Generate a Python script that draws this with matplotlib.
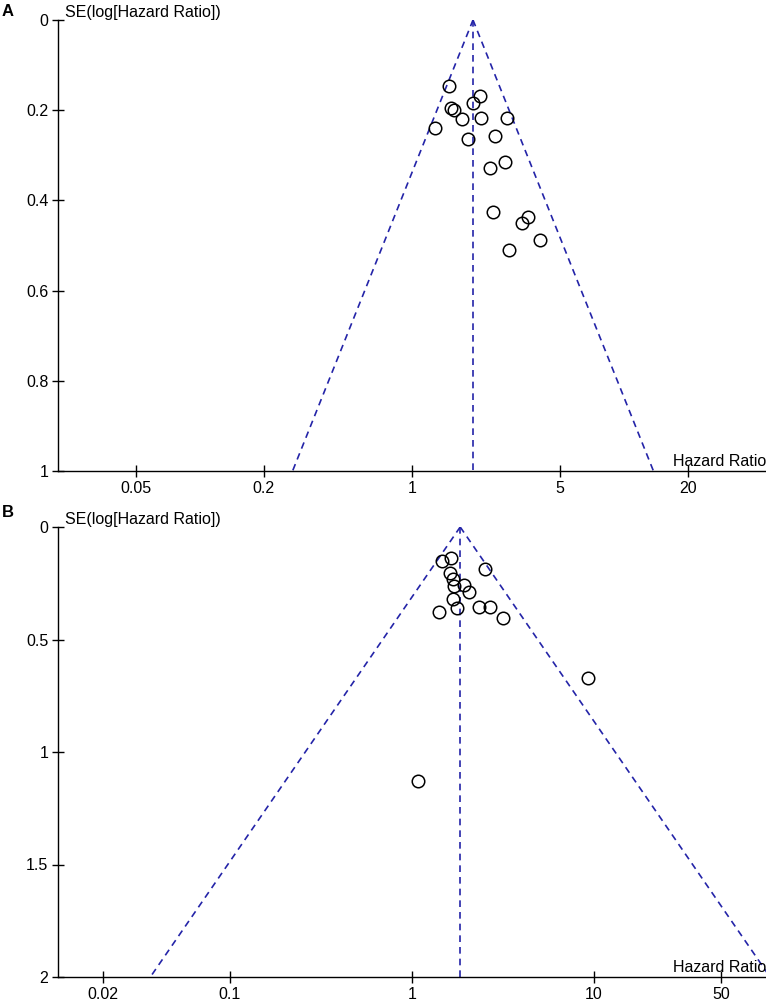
"""Funnel plots (RevMan style) for two hazard ratio meta-analyses."""

import matplotlib
matplotlib.use("Agg")
import matplotlib.pyplot as plt
import numpy as np

plt.rcParams["font.family"] = ["Liberation Sans", "DejaVu Sans"]

# Panel A: study hazard ratios and SE(log HR)
hr_a = [1.50, 2.09, 1.94, 1.53, 1.58, 1.72, 2.12, 2.81, 1.28, 1.84,
        2.46, 2.75, 2.33, 2.41, 3.52, 3.30, 4.02, 2.87]
se_a = [0.146, 0.169, 0.184, 0.195, 0.200, 0.220, 0.217, 0.217, 0.240, 0.264,
        0.257, 0.315, 0.328, 0.425, 0.437, 0.450, 0.488, 0.510]
pooled_a = 1.94
xticks_a = [0.05, 0.2, 1, 5, 20]
xticklabels_a = ["0.05", "0.2", "1", "5", "20"]
yticks_a = [0, 0.2, 0.4, 0.6, 0.8, 1]
yticklabels_a = ["0", "0.2", "0.4", "0.6", "0.8", "1"]

# Panel B
hr_b = [1.46, 1.64, 2.52, 1.62, 1.68, 1.70, 1.93, 2.06, 1.68, 1.77,
        1.41, 2.33, 2.68, 3.16, 9.27, 1.08]
se_b = [0.151, 0.138, 0.187, 0.204, 0.231, 0.262, 0.258, 0.289, 0.320, 0.360,
        0.378, 0.356, 0.356, 0.404, 0.671, 1.129]
pooled_b = 1.84
xticks_b = [0.02, 0.1, 1, 10, 50]
xticklabels_b = ["0.02", "0.1", "1", "10", "50"]
yticks_b = [0, 0.5, 1, 1.5, 2]
yticklabels_b = ["0", "0.5", "1", "1.5", "2"]

FUNNEL_COLOR = "#2424a8"
FONT_SIZE = 11.5


def draw_funnel(ax, hr, se, pooled, se_max, log_half_range,
                xticks, xticklabels, yticks, yticklabels):
    # pseudo 95% limits: log(HR) +/- 1.96 * SE
    se_line = np.array([0.0, se_max])
    lo = np.exp(np.log(pooled) - 1.96 * se_line)
    hi = np.exp(np.log(pooled) + 1.96 * se_line)
    dash = (0, (4, 3))
    ax.plot(lo, se_line, color=FUNNEL_COLOR, lw=1.2, linestyle=dash)
    ax.plot(hi, se_line, color=FUNNEL_COLOR, lw=1.2, linestyle=dash)
    ax.plot([pooled, pooled], se_line, color=FUNNEL_COLOR, lw=1.2, linestyle=dash)

    ax.plot(hr, se, linestyle="none", marker="o", markersize=9,
            markerfacecolor="none", markeredgecolor="black", markeredgewidth=1.1)

    ax.set_xscale("log")
    ax.set_xlim(10 ** -log_half_range, 10 ** log_half_range)
    ax.set_ylim(se_max, 0)
    ax.set_xticks(xticks)
    ax.set_xticklabels(xticklabels)
    ax.xaxis.set_minor_locator(matplotlib.ticker.NullLocator())
    ax.set_yticks(yticks)
    ax.set_yticklabels(yticklabels)

    for side in ("top", "right"):
        ax.spines[side].set_visible(False)
    for side in ("left", "bottom"):
        ax.spines[side].set_linewidth(1.0)
    ax.tick_params(direction="inout", length=8, width=1.0,
                   labelsize=FONT_SIZE, pad=3)
    ax.patch.set_alpha(0)

    ax.text(0.01, 1.0, "SE(log[Hazard Ratio])", transform=ax.transAxes,
            fontsize=FONT_SIZE, ha="left", va="bottom")
    ax.text(1.0, 0.005, "Hazard Ratio", transform=ax.transAxes,
            fontsize=FONT_SIZE, ha="right", va="bottom")


def main():
    fig = plt.figure(figsize=(7.66, 10), dpi=100)

    ax_a = fig.add_axes([58 / 766, 1 - 471 / 1000, 708 / 766, 451 / 1000])
    draw_funnel(ax_a, hr_a, se_a, pooled_a, 1.0, 1.67,
                xticks_a, xticklabels_a, yticks_a, yticklabels_a)

    ax_b = fig.add_axes([58 / 766, 1 - 977 / 1000, 708 / 766, 450 / 1000])
    draw_funnel(ax_b, hr_b, se_b, pooled_b, 2.0, 1.945,
                xticks_b, xticklabels_b, yticks_b, yticklabels_b)

    fig.text(2 / 766, 1 - 4 / 1000, "A", fontsize=12, fontweight="bold",
             ha="left", va="top")
    fig.text(2 / 766, 1 - 505 / 1000, "B", fontsize=12, fontweight="bold",
             ha="left", va="top")

    fig.savefig("out.png", dpi=100)


if __name__ == "__main__":
    main()
